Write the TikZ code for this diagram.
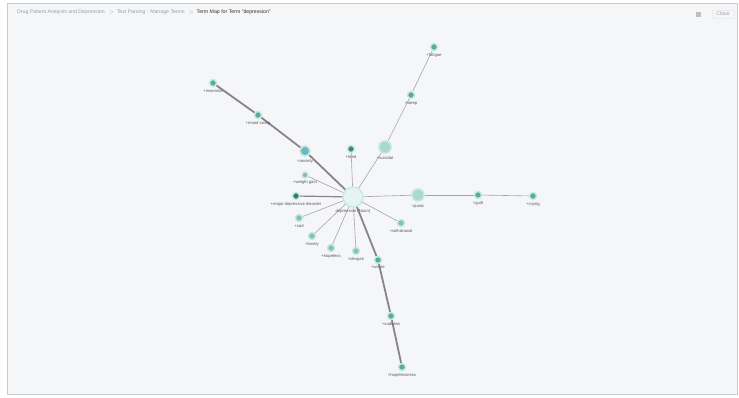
\documentclass[tikz,border=0pt]{standalone}
\usepackage{fontspec}
\setmainfont{Liberation Sans}
\usetikzlibrary{positioning, backgrounds}

\definecolor{pagebg}{HTML}{F4F6F8}
\definecolor{frameline}{HTML}{C8CCD0}
\definecolor{termfill}{HTML}{55AC9F}
\definecolor{termhalo}{HTML}{C6E7E1}
\definecolor{termdark}{HTML}{2F7D73}
\definecolor{termlight}{HTML}{A9D8D0}
\definecolor{termblue}{HTML}{6BB8C2}
\definecolor{edgegray}{HTML}{A9A3AD}
\definecolor{edgedark}{HTML}{8A828F}
\definecolor{crumbgray}{HTML}{9AA0A6}

\begin{document}
\begin{tikzpicture}[x=1pt, y=-1pt]
  \tikzstyle{term} = [circle, inner sep=0pt, minimum size=7pt, fill=termfill, draw=termhalo, line width=1.4pt]
  \tikzstyle{bigterm} = [circle, inner sep=0pt, minimum size=12pt, fill=termlight, draw=termhalo, line width=1.6pt]
  \tikzstyle{darkterm} = [term, fill=termdark]
  \tikzstyle{centerterm} = [circle, inner sep=0pt, minimum size=20pt, fill=white!70!termlight, draw=termhalo, line width=1.2pt]
  \tikzstyle{lbl} = [font=\fontsize{4.2}{5}\selectfont, text=black!65, inner sep=0.5pt, below=1.5pt]
  \tikzstyle{link} = [draw=edgegray, line width=0.6pt]
  \tikzstyle{strong} = [draw=edgedark, line width=1.8pt]

  % Frame (behind everything)
  \begin{pgfonlayer}{background}
    \fill[white] (0,0) rectangle (739,397);
    \filldraw[fill=pagebg, draw=frameline, line width=0.8pt] (7,3) rectangle (737,394);
  \end{pgfonlayer}

  % Header
  \node (crumb) [anchor=west, font=\fontsize{5.2}{6}\selectfont, text=crumbgray, inner sep=0pt] at (17,12)
    {Drug Patient Analysis and Depression \enspace$>$\enspace Text Parsing : Manage Terms \enspace$>$\enspace \textcolor{black!80}{Term Map for Term "depression"}};
  \node (help) [fill=black!25, minimum size=5pt, inner sep=0pt] at (698,14) {};
  \node (close) [draw=black!8, font=\fontsize{5.2}{6}\selectfont, text=crumbgray, inner sep=2pt, minimum width=22pt] at (723,14) {Close};

  % Central term
  \node (dep) at (353,197) [centerterm] {};

  % Upper left branch
  \node (anx) at (305,151) [bigterm, minimum size=10pt, fill=termblue] {};
  \node (swing) at (258,115) [term] {};
  \node (insom) at (213,83) [term] {};

  % Upper right branch
  \node (suic) at (385,147) [bigterm] {};
  \node (sleep) at (411,95) [term] {};
  \node (fatig) at (434,47) [term] {};

  % Right branch
  \node (panic) at (418,195) [bigterm] {};
  \node (guilt) at (478,195) [term] {};
  \node (cry) at (533,196) [term] {};

  % Lower branch
  \node (worse) at (378,260) [term] {};
  \node (sadn) at (391,316) [term] {};
  \node (hopel) at (402,367) [term] {};

  % Single terms
  \node (tired) at (351,149) [darkterm, fill=termdark!70!termfill] {};
  \node (weight) at (305,175) [term, fill=black!15!termlight, minimum size=6pt] {};
  \node (mdd) at (296,196) [darkterm] {};
  \node (sad) at (299,218) [term, fill=termlight!50!termfill] {};
  \node (lonely) at (312,236) [term, fill=termlight!50!termfill] {};
  \node (hopeless) at (331,248) [term, fill=termlight!50!termfill] {};
  \node (despair) at (356,251) [term, fill=termlight!50!termfill] {};
  \node (withd) at (401,223) [term, fill=termlight!50!termfill] {};

  % Labels
  \node (depL) at (dep.south) [lbl] {depression (Noun)};
  \node at (anx.south) [lbl] {+anxiety};
  \node at (swing.south) [lbl] {+mood swing};
  \node at (insom.south) [lbl] {+insomnia};
  \node at (suic.south) [lbl] {+suicidal};
  \node at (sleep.south) [lbl] {+sleep};
  \node at (fatig.south) [lbl] {+fatigue};
  \node at (panic.south) [lbl] {+panic};
  \node at (guilt.south) [lbl] {+guilt};
  \node at (cry.south) [lbl] {+crying};
  \node at (worse.south) [lbl] {+worse};
  \node at (sadn.south) [lbl] {+sadness};
  \node at (hopel.south) [lbl] {+hopelessness};
  \node at (tired.south) [lbl] {+tired};
  \node at (weight.south) [lbl] {+weight gain};
  \node at (mdd.south) [lbl] {+major depressive disorder};
  \node at (sad.south) [lbl] {+sad};
  \node at (lonely.south) [lbl] {+lonely};
  \node at (hopeless.south) [lbl] {+hopeless};
  \node at (despair.south) [lbl] {+despair};
  \node at (withd.south) [lbl] {+withdrawal};

  % Links
  \begin{pgfonlayer}{background}
    \draw[strong] (dep) -- (anx);
    \draw[strong] (anx) -- (swing);
    \draw[strong] (swing) -- (insom);
    \draw[strong] (dep) -- (worse);
    \draw[strong] (worse) -- (sadn);
    \draw[strong] (sadn) -- (hopel);
    \draw[strong, line width=1.2pt] (dep) -- (mdd);
    \draw[link] (dep) -- (suic);
    \draw[link] (suic) -- (sleep);
    \draw[link] (sleep) -- (fatig);
    \draw[link] (dep) -- (panic);
    \draw[link] (panic) -- (guilt);
    \draw[link] (guilt) -- (cry);
    \draw[link] (dep) -- (tired);
    \draw[link] (dep) -- (weight);
    \draw[link] (dep) -- (sad);
    \draw[link] (dep) -- (lonely);
    \draw[link] (dep) -- (hopeless);
    \draw[link] (dep) -- (despair);
    \draw[link] (dep) -- (withd);
  \end{pgfonlayer}
\end{tikzpicture}
\end{document}
